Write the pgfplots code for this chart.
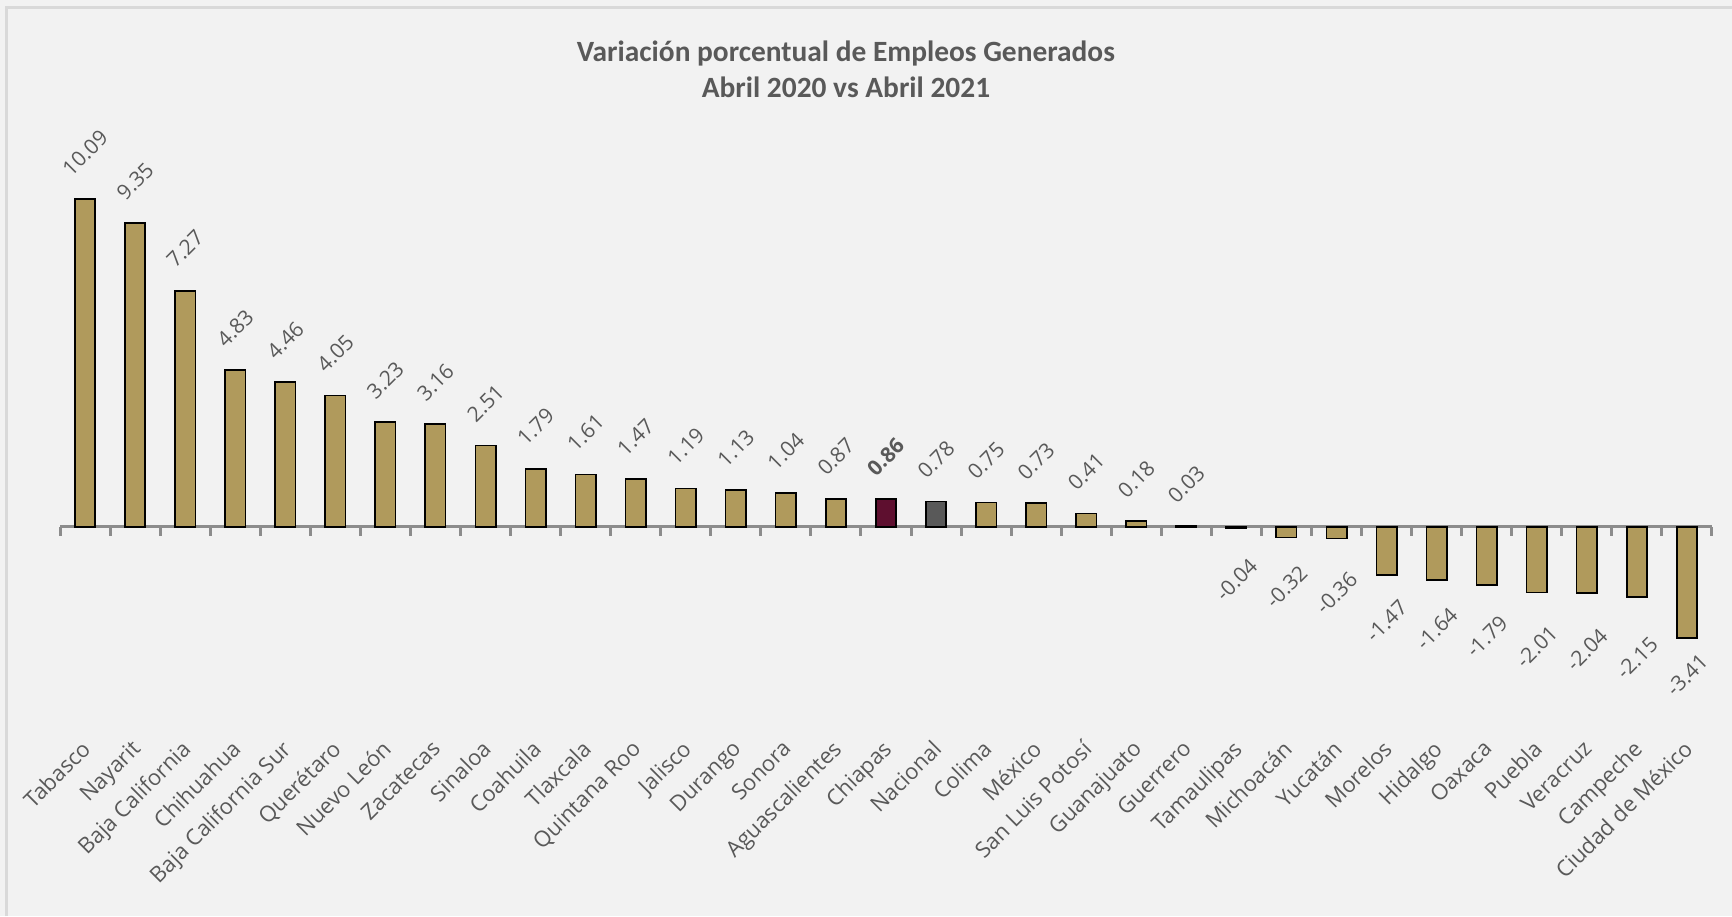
\documentclass[border=0pt]{standalone}
\usepackage{pgfplots}
\pgfplotsset{compat=1.18}
\usepackage{pgfplotstable}
\usepackage{graphicx}
\usepackage{fontspec}
\setmainfont{Open Sans}
\newfontfamily\titlefont{Carlito}
\usetikzlibrary{backgrounds}

\definecolor{bartan}{HTML}{B09A5C}
\definecolor{guinda}{HTML}{5E0F2F}
\definecolor{nacgray}{HTML}{595959}
\definecolor{txtgray}{HTML}{595959}
\definecolor{axgray}{HTML}{8C8C8C}
\definecolor{bgcol}{HTML}{F2F2F2}
\definecolor{framecol}{HTML}{D9D9D9}

\pgfplotstableread{
x y lab
0 10.09 10.09
1 9.35 9.35
2 7.27 7.27
3 4.83 4.83
4 4.46 4.46
5 4.05 4.05
6 3.23 3.23
7 3.16 3.16
8 2.51 2.51
9 1.79 1.79
10 1.61 1.61
11 1.47 1.47
12 1.19 1.19
13 1.13 1.13
14 1.04 1.04
15 0.87 0.87
18 0.75 0.75
19 0.73 0.73
20 0.41 0.41
21 0.18 0.18
22 0.03 0.03
}\pos

\pgfplotstableread{
x y lab g
23 -0.04 -0.04 14
24 -0.32 -0.32 13
25 -0.36 -0.36 15.5
26 -1.47 -1.47 11.5
27 -1.64 -1.64 12.5
28 -1.79 -1.79 14
29 -2.01 -2.01 15.5
30 -2.04 -2.04 16.5
31 -2.15 -2.15 19
32 -3.41 -3.41 7
}\negs

\pgfplotstableread{
x y lab
16 0.86 0.86
}\chis

\pgfplotstableread{
x y lab
17 0.78 0.78
}\nac

\begin{document}
\begin{tikzpicture}
\begin{axis}[
  x=25.03pt, y=16.25pt,
  xmin=-0.5, xmax=32.5, ymin=-4, ymax=10.6,
  axis x line=middle, axis y line=none,
  x axis line style={-, draw=axgray, line width=1.5pt},
  clip=false,
  xtick={0,...,32},
  xticklabels={Tabasco,Nayarit,Baja California,Chihuahua,Baja California Sur,Querétaro,Nuevo León,Zacatecas,Sinaloa,Coahuila,Tlaxcala,Quintana Roo,Jalisco,Durango,Sonora,Aguascalientes,Chiapas,Nacional,Colima,México,San Luis Potosí,Guanajuato,Guerrero,Tamaulipas,Michoacán,Yucatán,Morelos,Hidalgo,Oaxaca,Puebla,Veracruz,Campeche,Ciudad de México},
  major x tick style={draw=none},
  minor xtick={-0.5,0.5,...,32.5},
  minor x tick style={draw=axgray, line width=1.5pt},
  minor tick length=4.5pt,
  tick align=outside,
  xticklabel style={yshift=-100pt, xshift=-2.5pt, rotate=45, anchor=north east,
    font=\fontsize{11}{13}\selectfont, text=txtgray, inner sep=1pt},
  ybar, bar width=10.2pt,
  point meta=explicit symbolic,
  nodes near coords={\rotatebox{45}{\pgfplotspointmeta}},
  every node near coord/.append style={font=\fontsize{10.5}{12}\selectfont, text=txtgray, inner sep=0pt},
]
\addplot[bar shift=0pt, fill=bartan, draw=black, line width=0.8pt,
  every node near coord/.append style={anchor=south, yshift=10.5pt}]
  table[x=x, y=y, meta=lab]{\pos};
\addplot[bar shift=0pt, fill=guinda, draw=black, line width=0.8pt,
  every node near coord/.append style={anchor=south, yshift=10.5pt, font=\fontsize{10.5}{12}\selectfont\bfseries}]
  table[x=x, y=y, meta=lab]{\chis};
\addplot[bar shift=0pt, fill=nacgray, draw=black, line width=0.8pt,
  every node near coord/.append style={anchor=south, yshift=10.5pt}]
  table[x=x, y=y, meta=lab]{\nac};
\addplot[bar shift=0pt, fill=bartan, draw=black, line width=0.8pt,
  visualization depends on=\thisrow{g}\as\gap,
  every node near coord/.append style={anchor=north, yshift=-\gap pt}]
  table[x=x, y=y, meta=lab]{\negs};

\node[anchor=base, font=\titlefont\bfseries\fontsize{14.7}{17}\selectfont, text=txtgray]
  at (axis cs:15.2,14.31) {Variación porcentual de Empleos Generados};
\node[anchor=base, font=\titlefont\bfseries\fontsize{14.7}{17}\selectfont, text=txtgray]
  at (axis cs:15.2,13.23) {Abril 2020 vs Abril 2021};

\coordinate (bl) at (axis cs:-1.6986,-11.97);
\coordinate (tr) at (axis cs:32.9,16.215);
\coordinate (fc) at (axis cs:-1.5687,15.985);
\end{axis}
\begin{scope}[on background layer]
  \fill[bgcol] (bl) rectangle (tr);
  \draw[framecol, line width=1.5pt] (fc |- bl) -- (fc) -- (fc -| tr);
\end{scope}
\pgfresetboundingbox
\useasboundingbox (bl) rectangle (tr);
\end{tikzpicture}
\end{document}
